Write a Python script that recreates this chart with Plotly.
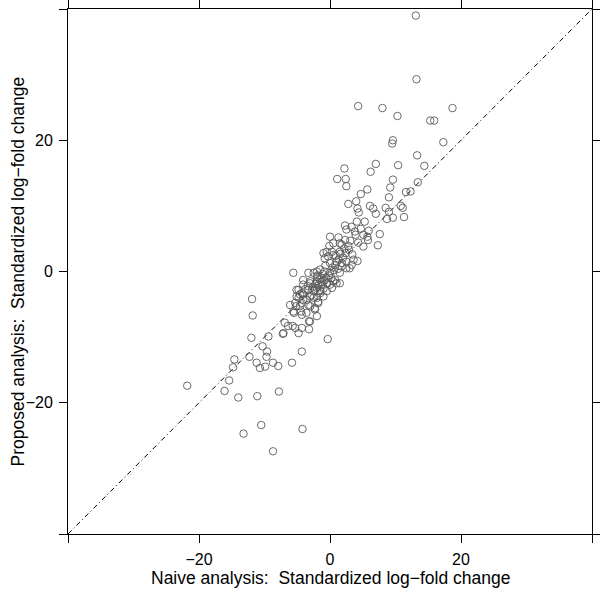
import plotly.graph_objects as go

# Naive (x) vs proposed (y) standardized log-fold change
naive = [
    13.1, 13.2, 4.3, 8.0, 10.3, 18.7, 15.3, 15.9,
    9.6, 9.5, 17.3, 13.3, 10.4, 7.0, 6.2, 14.4,
    2.2, 1.1, 2.4, 2.5, 9.6, 9.2, 13.4, 5.7, 4.7,
    11.6, 12.3, 9.0, 4.0, 2.8, 4.2, 6.1, 8.5, 10.8, 11.1,
    6.6, 4.4, 7.0, 9.0, 9.6, 11.3, 8.7, 4.1, 5.3,
    2.3, 2.5, 3.3, 3.8, 4.7, 5.9, 5.1, 3.9, 7.6, 5.7, 5.8,
    0.0, 1.3, 2.3, 3.1, 1.8, 2.8, 4.3, 5.1, 7.3, -0.1, 0.5, 1.5,
    -0.5, 0.3, 1.5, 2.4, -1.0, -0.3, 0.5, 3.6, 4.2, -0.8, 1.3, 2.5, 3.3,
    0.0, 0.8, 1.8, 3.0, 1.0, 1.8, 2.5,
    -1.5, -0.8, 0.0, -5.6, -3.3, -2.5, -2.0, 1.5,
    -2.0, -1.3, -0.8, -4.1, -3.0, 0.0, 1.0, 0.8,
    -4.8, -3.8, -2.0, -1.5, -5.1, -4.6, -2.3, -1.5,
    -4.1, -3.6, -2.5, -1.8, -5.3, -4.6, -3.0, -2.3, -5.6, -4.3, -2.0,
    -11.9, -11.8,
    -6.1, -5.2, -4.3, -3.3, -2.3, -1.8,
    -5.5, -4.4, -3.6, -3.05,
    -4.1, -3.05, -2.0, -1.3, -0.5, 0.5, 1.5,
    -5.1, -4.3, -3.3, -2.5, -1.5, -0.5, 0.3,
    -4.8, -4.1, -3.05, -2.0, -1.0,
    -6.9, -6.4, -5.7, -5.3, -4.3, -3.2, -3.2, -4.8, -7.2, -7.1,
    -9.4, -12.0, -0.35, -10.3, -9.6, -4.3, -12.3, -9.7,
    -11.2, -10.7, -9.9, -8.7, -7.9, -5.8,
    -14.6, -14.8, -15.4, -21.8, -16.1, -14.0, -11.1, -7.8,
    -10.5, -13.2, -4.2, -8.7,
    -1.2, -0.6, -1.8, -2.6, -0.2, 0.6, -1.0, -1.6, -2.2, -0.4, 0.2, -2.8, 1.2, 2.0, -3.4, -1.1,
    0.9, 1.6, 2.2, 2.9, 3.4, 0.4, -0.7, -1.9,
]
proposed = [
    39.0, 29.3, 25.2, 24.9, 23.7, 24.9, 23.0, 23.0,
    20.0, 19.5, 19.7, 17.7, 16.2, 16.4, 15.2, 16.1,
    15.7, 14.1, 14.1, 13.0, 14.0, 12.8, 13.6, 12.5, 11.8,
    12.1, 12.2, 11.3, 10.7, 10.3, 9.6, 10.0, 9.7, 10.0, 9.7,
    9.6, 9.0, 8.8, 9.1, 8.2, 8.3, 8.0, 7.6, 7.6,
    7.0, 6.4, 6.8, 6.1, 6.5, 6.2, 5.6, 5.6, 5.7, 5.3, 4.8,
    5.3, 5.2, 4.8, 4.7, 4.1, 3.9, 4.4, 3.8, 4.0, 3.9, 4.3, 4.3,
    3.0, 3.0, 3.0, 2.8, 2.8, 2.3, 2.5, 1.8, 1.6, 2.0, 1.8, 1.5, 1.0,
    1.3, 1.0, 0.8, 0.5, 1.5, 1.3, 0.5,
    0.3, 0.0, -0.2, -0.2, -0.2, -0.2, 0.0, -0.2,
    -0.8, -1.0, -1.3, -1.3, -1.5, -2.0, -1.8, -1.3,
    -2.8, -2.7, -2.5, -3.0, -3.8, -3.5, -2.8, -3.3,
    -3.5, -4.3, -4.0, -4.6, -4.8, -5.3, -5.3, -5.8, -6.1, -6.6, -6.8,
    -4.2, -6.7,
    -5.1, -5.3, -4.8, -5.1, -5.6, -4.8,
    -6.3, -6.1, -6.3, -7.6,
    -2.0, -1.8, -1.5, -2.0, -1.8, -1.5, -1.8,
    -2.8, -3.3, -2.8, -3.0, -2.8, -3.0, -2.5,
    -4.0, -4.3, -3.8, -4.0, -3.8,
    -7.8, -8.3, -8.3, -8.6, -8.6, -8.8, -7.6, -9.4, -9.5, -9.4,
    -9.9, -10.1, -10.3, -11.4, -12.2, -12.2, -13.0, -13.0,
    -13.9, -14.7, -14.5, -13.9, -14.4, -13.9,
    -13.4, -14.6, -16.6, -17.4, -18.2, -19.2, -19.0, -18.3,
    -23.4, -24.7, -24.0, -27.4,
    -1.6, -0.9, -2.1, -2.3, -0.6, 0.2, -2.6, -1.2, -1.9, -1.8, -1.0, -3.6, 0.4, 2.1, -2.2, -0.4,
    2.4, 2.7, 3.5, 3.3, 2.6, 0.6, 0.9, -0.6,
]

diag = [-40, 40]
tick_vals = [-40, -20, 0, 20, 40]
tick_text = ["", "\u221220", "0", "20", ""]
x_title = "Naive analysis:\u00a0 Standardized log\u2212fold change"
y_title = "Proposed analysis:\u00a0 Standardized log\u2212fold change"

font_family = "Liberation Sans, Arial, Helvetica, sans-serif"

fig = go.Figure()
fig.add_trace(go.Scatter(
    x=diag, y=diag, mode="lines",
    line=dict(color="black", width=1, dash="5px,3px,1px,3px"),
    hoverinfo="skip", showlegend=False,
))
fig.add_trace(go.Scatter(
    x=naive, y=proposed, mode="markers",
    marker=dict(symbol="circle-open", size=7.5, color="#5a5a5a", line=dict(width=0.9, color="#5a5a5a")),
    showlegend=False, cliponaxis=False,
))

axis_common = dict(
    range=[-40, 40], tickmode="array", tickvals=tick_vals, ticktext=tick_text,
    showline=True, linecolor="black", linewidth=1, mirror="ticks",
    ticks="outside", ticklen=8, tickwidth=1, tickcolor="black",
    showgrid=False, zeroline=False, automargin=False,
    tickfont=dict(family=font_family, size=16, color="black"),
)

fig.update_layout(
    width=600, height=589,
    margin=dict(l=68, r=8, t=9, b=55),
    plot_bgcolor="white", paper_bgcolor="white",
    font=dict(family=font_family, size=16, color="black"),
    xaxis=dict(**axis_common, ticklabelstandoff=3),
    yaxis=dict(**axis_common, ticklabelstandoff=3),
    annotations=[
        dict(text=x_title, xref="paper", yref="paper", x=0.5, y=0,
             xanchor="center", yanchor="middle", yshift=-44, showarrow=False,
             font=dict(family=font_family, size=17.5, color="black")),
        dict(text=y_title, xref="paper", yref="paper", x=0, y=0.5, textangle=-90,
             xanchor="center", yanchor="middle", xshift=-51, showarrow=False,
             font=dict(family=font_family, size=17.5, color="black")),
    ],
)

fig.write_html("out.html", config={"displayModeBar": False},
               post_script="document.body.style.margin='0';")
